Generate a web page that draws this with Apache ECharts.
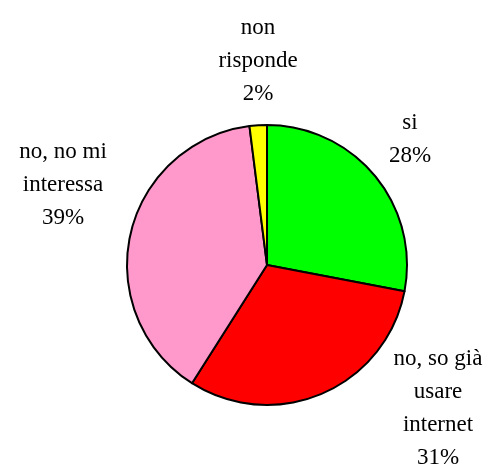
<!DOCTYPE html>
<html><head><meta charset="utf-8">
<script src="https://cdn.jsdelivr.net/npm/echarts@6/dist/echarts.min.js"></script>
<style>html,body{margin:0;padding:0;background:#fff}#c{width:494px;height:467px}</style>
</head><body><div id="c"></div>
<script>
const categories = ['si', 'no, so già\nusare\ninternet', 'no, no mi\ninteressa', 'non\nrisponde'];
const values = [28, 31, 39, 2];
const colors = ['#00FF00', '#FF0000', '#FF99CC', '#FFFF00'];
const labelPos = [[410, 139], [438, 408], [63, 185], [258, 61]];

const chart = echarts.init(document.getElementById('c'));
chart.setOption({
  animation: false,
  series: [{
    type: 'pie',
    center: [267, 265],
    radius: 140,
    startAngle: 90,
    clockwise: true,
    data: categories.map((n, i) => ({ name: n, value: values[i], itemStyle: { color: colors[i] } })),
    itemStyle: { borderColor: '#000', borderWidth: 2 },
    label: {
      show: true,
      formatter: p => p.name + '\n' + p.value + '%',
      fontFamily: 'Liberation Serif',
      fontSize: 23,
      lineHeight: 33,
      color: '#000',
      align: 'center',
      overflow: 'none',
      width: 200
    },
    labelLine: { show: false },
    labelLayout: function (params) {
      const p = labelPos[params.dataIndex];
      return { x: p[0], y: p[1], align: 'center', verticalAlign: 'middle' };
    },
    emphasis: { disabled: true }
  }]
});
</script></body></html>
